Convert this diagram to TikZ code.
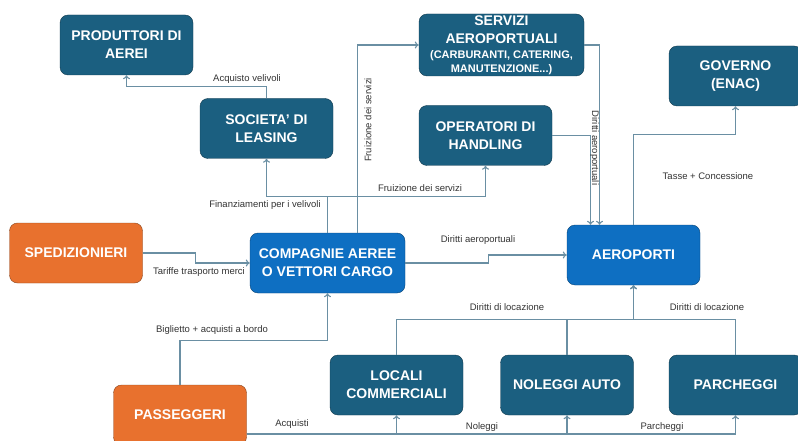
\documentclass[tikz,border=0pt]{standalone}
\usepackage{fontspec}
\setmainfont{Liberation Sans}
\usetikzlibrary{arrows.meta}
\definecolor{scuro}{HTML}{1B5F80}
\definecolor{chiaro}{HTML}{0E6FC2}
\definecolor{arancio}{HTML}{E8712E}
\definecolor{linea}{HTML}{6A8FA3}

\begin{document}
\begin{tikzpicture}[x=1pt,y=-1pt,
    box/.style={draw=#1!60!black, fill=#1, rounded corners=8pt, text=white,
      align=center, font=\bfseries\fontsize{14}{18}\selectfont,
      minimum width=133pt, minimum height=60pt, inner sep=0pt},
    box/.default=scuro,
    conn/.style={draw=linea, line width=1.1pt, -{To[length=4pt,width=7pt]}},
    lab/.style={font=\fontsize{9.5}{11}\selectfont, text=black!80, inner sep=1pt}]
  \useasboundingbox (0,0) rectangle (798,441);
  % riquadri
  \node[box] (prod) at (126.5,45) {PRODUTTORI DI\\AEREI};
  \node[box] (leas) at (266.5,128.5) {SOCIETA' DI\\LEASING};
  \node[box, minimum width=165pt, minimum height=62pt] (serv) at (501.5,45)
    {SERVIZI\\AEROPORTUALI\\[-3pt]{\fontsize{11}{13}\selectfont (CARBURANTI, CATERING,}\\[-4pt]{\fontsize{11}{13}\selectfont MANUTENZIONE...)}};
  \node[box] (hand) at (485.5,135.5) {OPERATORI DI\\HANDLING};
  \node[box] (gov) at (735.5,76) {GOVERNO\\(ENAC)};
  \node[box=arancio] (sped) at (76,253) {SPEDIZIONIERI};
  \node[box=chiaro, minimum width=155pt] (comp) at (327.5,263) {COMPAGNIE AEREE\\O VETTORI CARGO};
  \node[box=chiaro] (aero) at (633.5,255) {AEROPORTI};
  \node[box=arancio] (pass) at (180,415) {PASSEGGERI};
  \node[box] (loc) at (396.5,385) {LOCALI\\COMMERCIALI};
  \node[box] (nol) at (567,385) {NOLEGGI AUTO};
  \node[box] (parch) at (735.5,385) {PARCHEGGI};
  % flussi
  \draw[conn] (leas.north) -- ++(0,-12) -| (prod.south);
  \draw[conn] (comp.north) -- ++(0,-36) -| (leas.south);
  \draw[conn] (comp.north) -- ++(0,-36) -| (hand.south);
  \draw[conn] ([xshift=30pt]comp.north) |- (serv.west);
  \draw[conn] (serv.east) -| ([xshift=-34pt]aero.north);
  \draw[conn] (hand.east) -| ([xshift=-43pt]aero.north);
  \draw[conn] (aero.north) -- ++(0,-90) -| (gov.south);
  \draw[conn] (sped.east) -- ++(53,0) |- (comp.west);
  \draw[conn] (comp.east) -- ++(83,0) |- (aero.west);
  \draw[conn] (pass.north) -- ++(0,-44) -| (comp.south);
  \draw[conn] (loc.north) -- ++(0,-35) -| (aero.south);
  \draw[conn] (nol.north) -- ++(0,-35) -| (aero.south);
  \draw[conn] (parch.north) -- ++(0,-35) -| (aero.south);
  \draw[conn] ([yshift=-19pt]pass.east) -| (loc.south);
  \draw[conn] ([yshift=-19pt]pass.east) -| (nol.south);
  \draw[conn] ([yshift=-19pt]pass.east) -| (parch.south);
  % etichette
  \node[lab] (l1) at (247,79) {Acquisto velivoli};
  \node[lab, rotate=90] (l2) at (368,120) {Fruizione dei servizi};
  \node[lab] (l3) at (265,205) {Finanziamenti per i velivoli};
  \node[lab] (l4) at (420,188) {Fruizione dei servizi};
  \node[lab, rotate=-90] (l5) at (594.5,148) {Diritti aeroportuali};
  \node[lab] (l6) at (708,176) {Tasse + Concessione};
  \node[lab] (l7) at (199,272) {Tariffe trasporto merci};
  \node[lab] (l8) at (478,240) {Diritti aeroportuali};
  \node[lab] (l9) at (212,330) {Biglietto + acquisti a bordo};
  \node[lab] (l10) at (507,307) {Diritti di locazione};
  \node[lab] (l11) at (707,307) {Diritti di locazione};
  \node[lab] (l12) at (292,424) {Acquisti};
  \node[lab] (l13) at (482,427) {Noleggi};
  \node[lab] (l14) at (662,427) {Parcheggi};
\end{tikzpicture}
\end{document}
